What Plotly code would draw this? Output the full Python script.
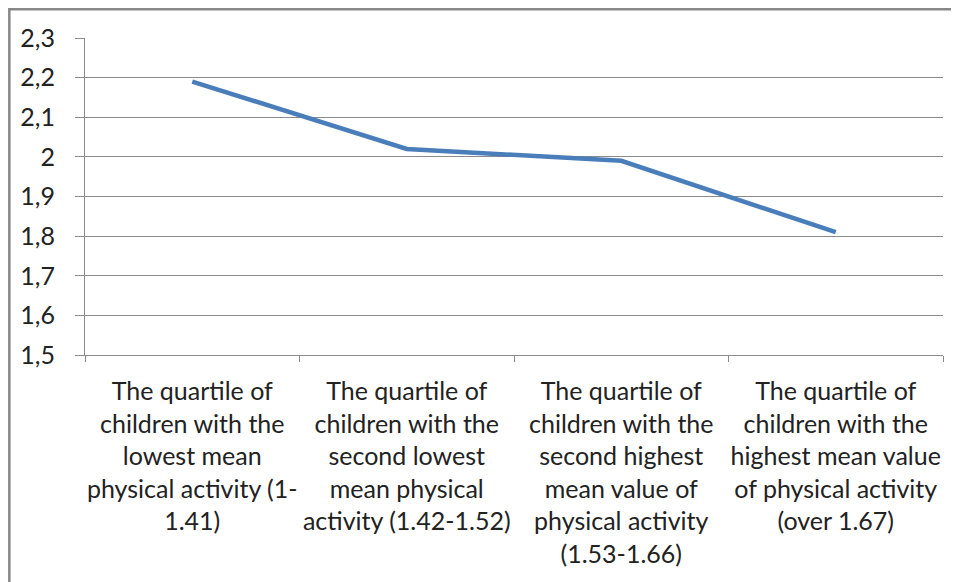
import plotly.graph_objects as go

categories = [
    "The quartile of<br>children with the<br>lowest mean<br>physical activity (1-<br>1.41)",
    "The quartile of<br>children with the<br>second lowest<br>mean physical<br>activity (1.42-1.52)",
    "The quartile of<br>children with the<br>second highest<br>mean value of<br>physical activity<br>(1.53-1.66)",
    "The quartile of<br>children with the<br>highest mean value<br>of physical activity<br>(over 1.67)",
]
values = [2.19, 2.02, 1.99, 1.81]
y_ticks = [1.5, 1.6, 1.7, 1.8, 1.9, 2.0, 2.1, 2.2, 2.3]

FONT = "Lato"
GRID = "#8a8a8a"

# page body has an 8px margin, so the figure is sized to end at the window edge
fig = go.Figure()
fig.add_trace(go.Scatter(
    x=categories, y=values, mode="lines",
    line=dict(color="#4a7ebb", width=4.5),
    showlegend=False, hoverinfo="skip",
))

fig.update_layout(
    width=951, height=574,
    margin=dict(l=77, r=16, t=30, b=227),
    paper_bgcolor="white", plot_bgcolor="white",
    separators=", ",
    font=dict(family=FONT, size=25, color="#222222"),
    shapes=[dict(type="rect", xref="paper", yref="paper",
                 x0=-0.0882, x1=1.2, y0=-1.0, y1=1.0905,
                 line=dict(color="#888888", width=2.5), layer="below")],
)
fig.update_xaxes(
    type="category", tickson="boundaries", automargin=False,
    range=[-0.5, len(categories) - 0.5], tickangle=0,
    showgrid=False, showline=True, linecolor=GRID, linewidth=1,
    ticks="outside", ticklen=6, tickcolor=GRID,
    tickfont=dict(family=FONT, size=25, color="#222222"),
    ticklabelstandoff=14,
)
fig.update_yaxes(
    range=[1.5, 2.3], tickvals=y_ticks, automargin=False,
    showgrid=True, gridcolor=GRID, gridwidth=1,
    showline=True, linecolor=GRID, linewidth=1,
    ticks="outside", ticklen=9, tickcolor=GRID,
    tickfont=dict(family=FONT, size=25, color="#222222"),
    zeroline=False, ticklabelstandoff=15,
)

fig.write_html("out.html")
